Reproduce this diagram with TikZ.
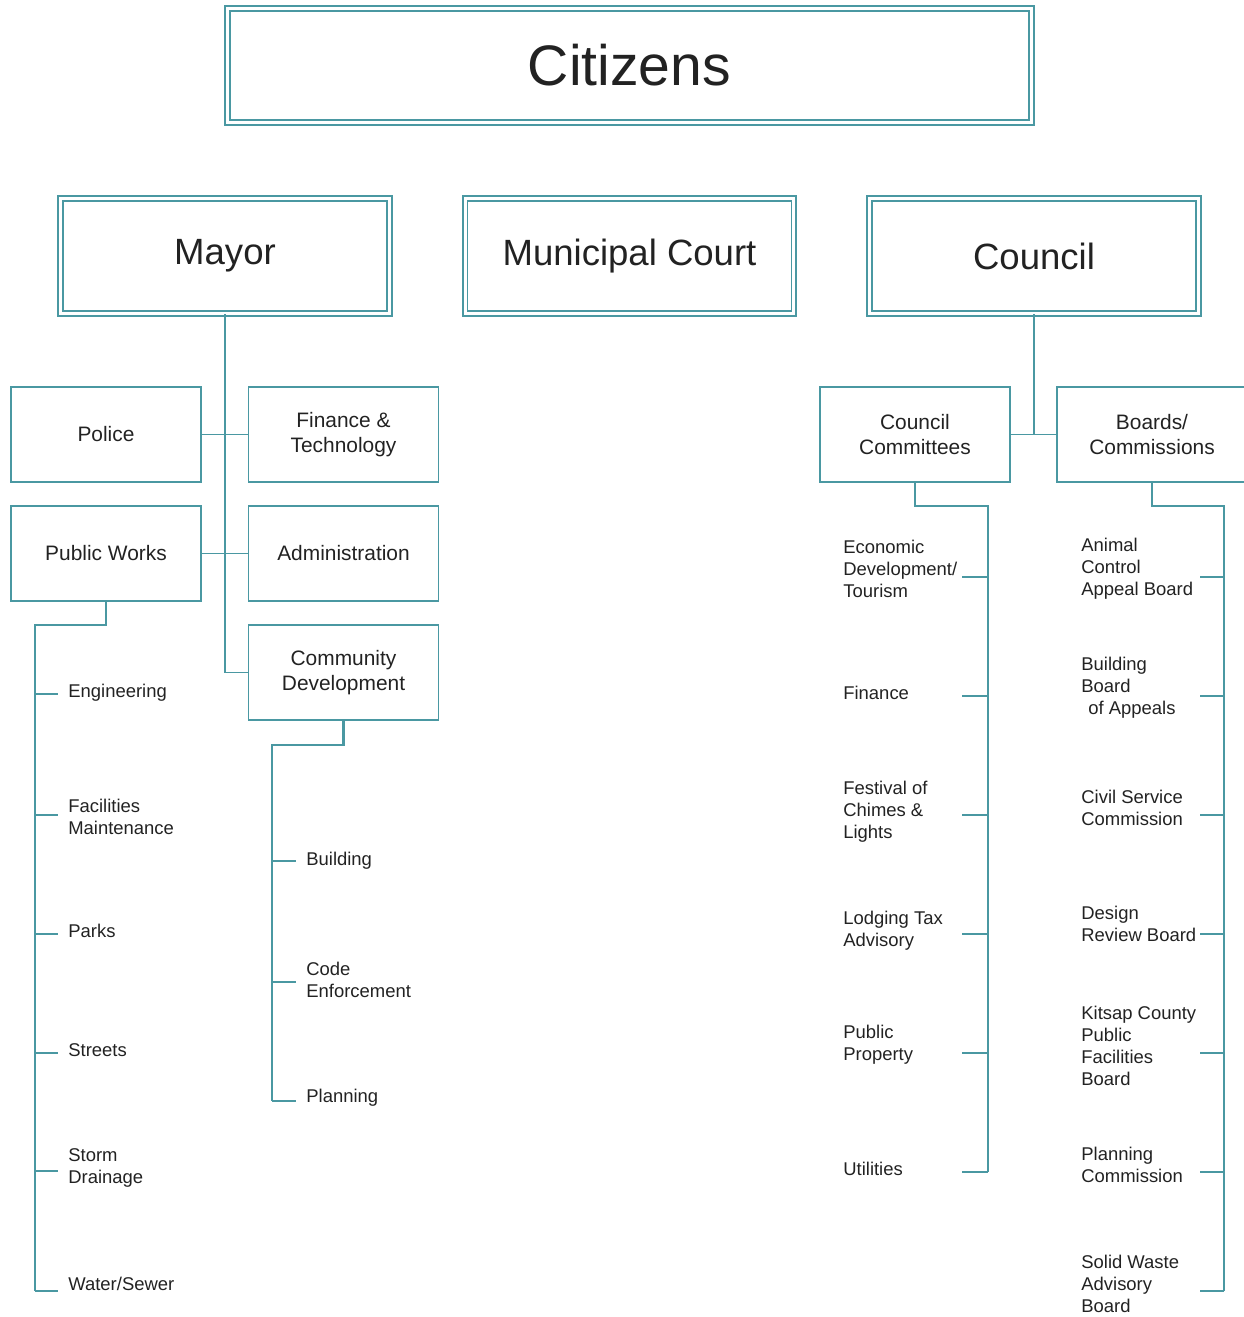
\documentclass[tikz,border=0pt]{standalone}
\usepackage{fontspec}
\setmainfont{Liberation Sans}
\definecolor{orgline}{RGB}{74,152,162}
\definecolor{orgtext}{RGB}{34,34,34}

\begin{document}
\begin{tikzpicture}[x=0.02cm, y=-0.02cm,
  head/.style={draw=orgline, line width=1.1pt, double=white, double distance=1.7pt, inner sep=0pt,
    minimum width=6.58cm, minimum height=2.3cm, text=orgtext, font=\fontsize{20.8}{25}\selectfont},
  unit/.style={draw=orgline, line width=1pt, inner sep=0pt, minimum width=3.8cm, minimum height=1.9cm,
    align=center, text=orgtext, font=\fontsize{11.9}{14.2}\selectfont},
  item/.style={anchor=west, inner sep=0pt, align=left, text=orgtext, font=\fontsize{10.5}{12.5}\selectfont},
  link/.style={draw=orgline, line width=0.9pt},
  bar/.style={draw=orgline, line width=1.5pt},
  tick/.style={draw=orgline, line width=1pt}]
\useasboundingbox (0,0) rectangle (1243,1317);

% top row
\node[head, minimum width=16.08cm, minimum height=2.28cm, font=\fontsize{32.5}{38}\selectfont] (citizens) at (629.5,65.5) {Citizens};
\node[head] (mayor) at (225,256) {Mayor};
\node[head] (court) at (629.5,256) {Municipal Court};
\node[head] (council) at (1034,256) {Council};

% departments
\node[unit] (police) at (106,434.5) {Police};
\node[unit] (fintech) at (343.5,434.5) {Finance \&\\Technology};
\node[unit] (pubworks) at (106,553.5) {Public Works};
\node[unit] (admin) at (343.5,553.5) {Administration};
\node[unit] (commdev) at (343.5,672.5) {Community\\Development};
\node[unit] (committees) at (915,434.5) {Council\\Committees};
\node[unit] (boards) at (1152,434.5) {Boards/\\Commissions};

\draw[link] (mayor.south) |- (commdev.west);
\draw[link] (police.east) -- (fintech.west);
\draw[link] (pubworks.east) -- (admin.west);
\draw[link] (committees.east) -- (boards.west);
\draw[link] (council.south) -- (council.south |- committees.east);

% sub lists
\coordinate (pwtop) at (35,625);
\coordinate (pwend) at (35,1291);
\draw[bar] (pubworks.south) |- (pwtop) -- (pwend);
\foreach \y/\ly/\t in {694/693/Engineering, 815/817/Facilities\\Maintenance, 934/931/Parks,
  1053/1050/Streets, 1171/1168/Storm\\Drainage, 1291/1284/{Water/Sewer}}{
  \node[item] (pw\y) at (68,\ly) {\t};
  \draw[tick] (pwtop |- 0,\y) -- ++(23,0);
}

\coordinate (cdtop) at (272,745);
\coordinate (cdend) at (272,1101);
\draw[bar] (commdev.south) |- (cdtop) -- (cdend);
\foreach \y/\ly/\t in {861/861/Building, 982/980/Code\\Enforcement, 1101/1098/Planning}{
  \node[item] (cd\y) at (306,\ly) {\t};
  \draw[tick] (cdtop |- 0,\y) -- ++(24,0);
}

\coordinate (cctop) at (988,506);
\coordinate (ccend) at (988,1172);
\draw[bar] (committees.south) |- (cctop) -- (ccend);
\foreach \y/\ly/\t in {577/569/{Economic\\Development/\\Tourism}, 696/693/Finance, 815/812/Festival of\\Chimes \&\\Lights,
  934/931/Lodging Tax\\Advisory, 1053/1045/Public\\Property, 1172/1169/Utilities}{
  \node[item] (cc\y) at (843,\ly) {\t};
  \draw[tick] (cctop |- 0,\y) -- ++(-26,0);
}

\coordinate (bctop) at (1224,506);
\coordinate (bcend) at (1224,1291);
\draw[bar] (boards.south) |- (bctop) -- (bcend);
\foreach \y/\ly/\t in {577/569/Animal\\Control\\Appeal Board, 696/688/Building\\Board\\\hspace*{4pt}of Appeals,
  815/808/Civil Service\\Commission, 934/924/Design\\Review Board, 1053/1046/Kitsap County\\Public\\Facilities\\Board,
  1172/1165/Planning\\Commission, 1291/1284/Solid Waste\\Advisory\\Board}{
  \node[item] (bc\y) at (1081,\ly) {\t};
  \draw[tick] (bctop |- 0,\y) -- ++(-24,0);
}
\end{tikzpicture}
\end{document}
